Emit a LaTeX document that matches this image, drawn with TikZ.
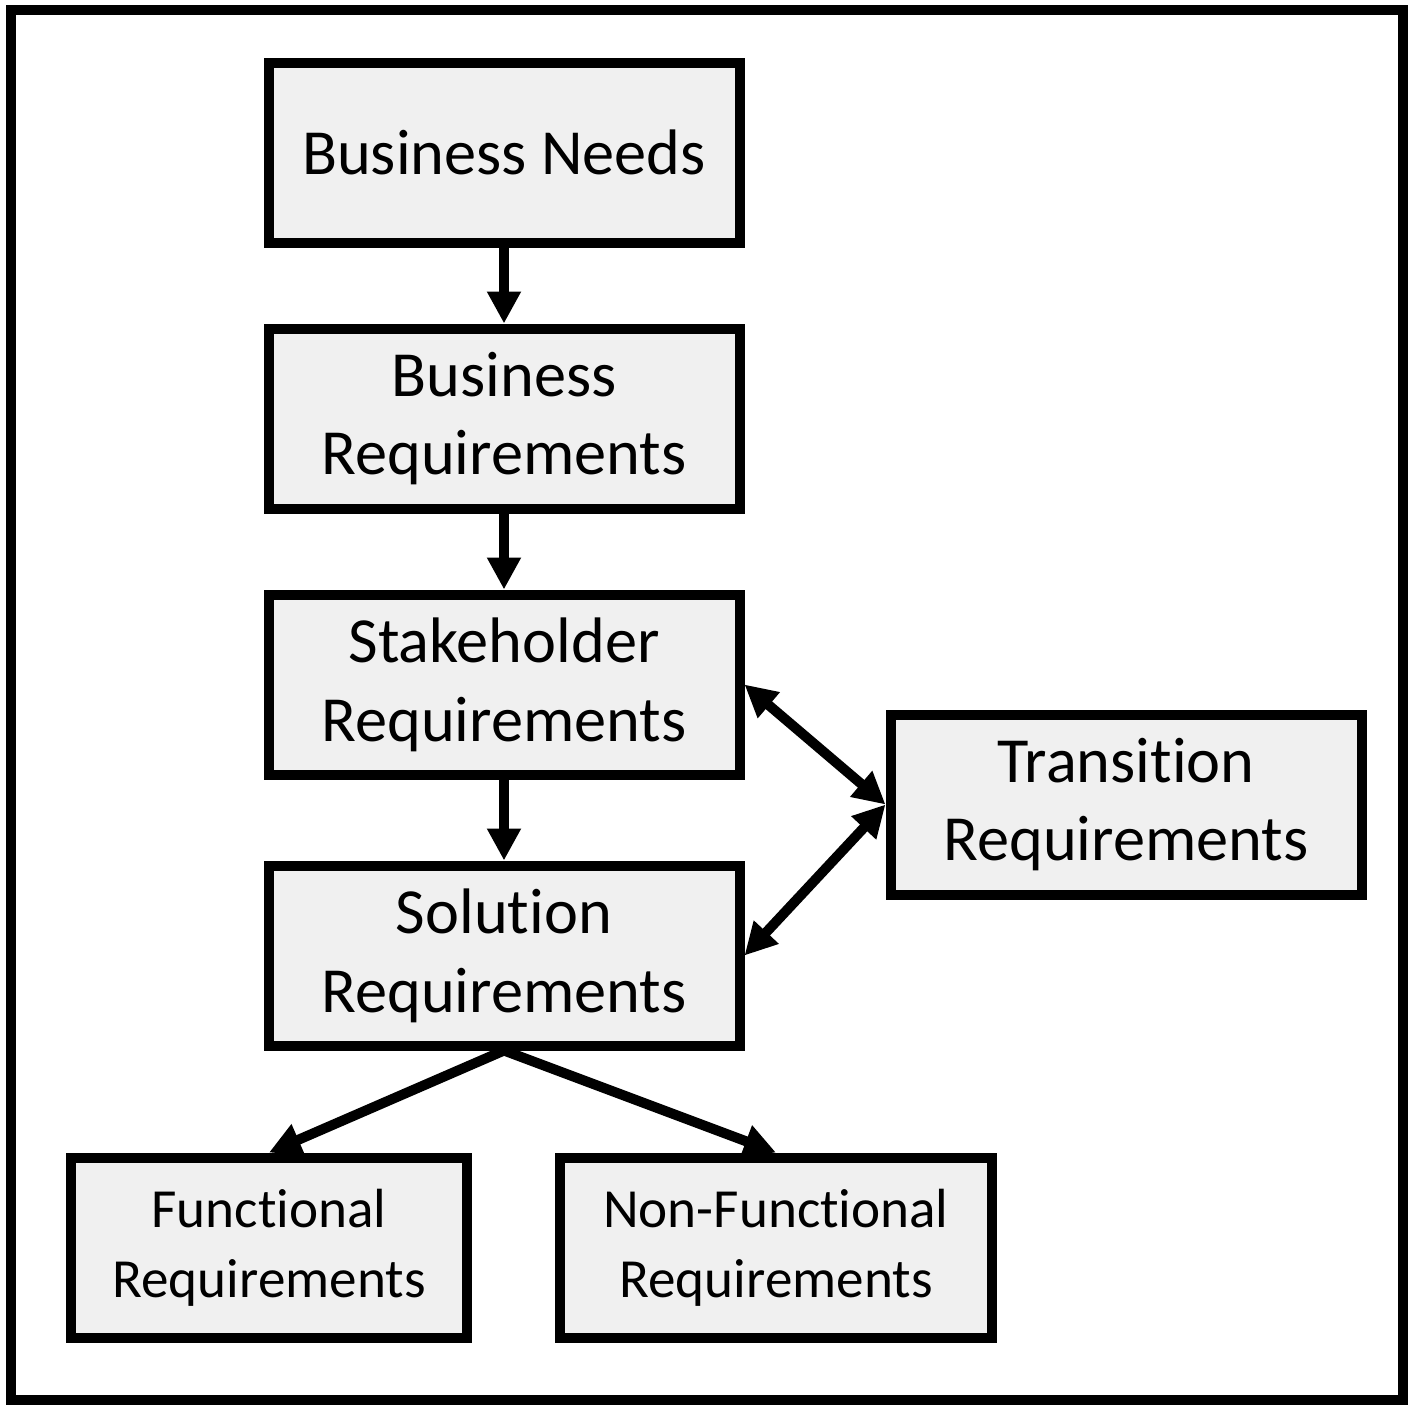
\documentclass[tikz,border=0pt]{standalone}
\usepackage{fontspec}
\setmainfont{Carlito}[Ligatures=NoCommon]
\usetikzlibrary{arrows.meta}
\definecolor{boxgray}{RGB}{240,240,240}
\tikzset{
  box/.style={draw, line width=0.1cm, fill=boxgray, minimum width=4.71cm, minimum height=1.8cm, align=center, inner sep=0pt, font=\fontsize{18.3}{22.4}\selectfont},
  smallbox/.style={box, font=\fontsize{15.7}{20}\selectfont},
  arr/.style={line width=0.1cm, -{Triangle[length=0.32cm,width=0.32cm]}},
  dblarr/.style={line width=0.1cm, {Triangle[length=0.32cm,width=0.32cm]}-{Triangle[length=0.32cm,width=0.32cm]}}
}
\begin{document}
\begin{tikzpicture}
\useasboundingbox (0,0) rectangle (14.14,-14.10);
\draw[line width=0.1cm] (0.11,-0.095) rectangle (14.03,-14.0);
\node[box] (needs) at (5.04,-1.525) {Business Needs};
\node[box] (busreq) at (5.04,-4.185) {Business\\Requirements};
\node[box] (stake) at (5.04,-6.845) {Stakeholder\\Requirements};
\node[box] (sol) at (5.04,-9.555) {Solution\\Requirements};
\node[box] (trans) at (11.26,-8.045) {Transition\\Requirements};
\node[smallbox, minimum width=3.96cm] (func) at (2.69,-12.475) {Functional\\Requirements};
\node[smallbox, minimum width=4.32cm] (nonfunc) at (7.76,-12.475) {Non-Functional\\Requirements};
\draw[arr] (needs) -- (busreq);
\draw[arr] (busreq) -- (stake);
\draw[arr] (stake) -- (sol);
\draw[dblarr] (stake.east) -- (trans.west);
\draw[dblarr] (trans.west) -- (sol.east);
\draw[arr] (sol.south) -- (func.north);
\draw[arr] (sol.south) -- (nonfunc.north);
\end{tikzpicture}
\end{document}
